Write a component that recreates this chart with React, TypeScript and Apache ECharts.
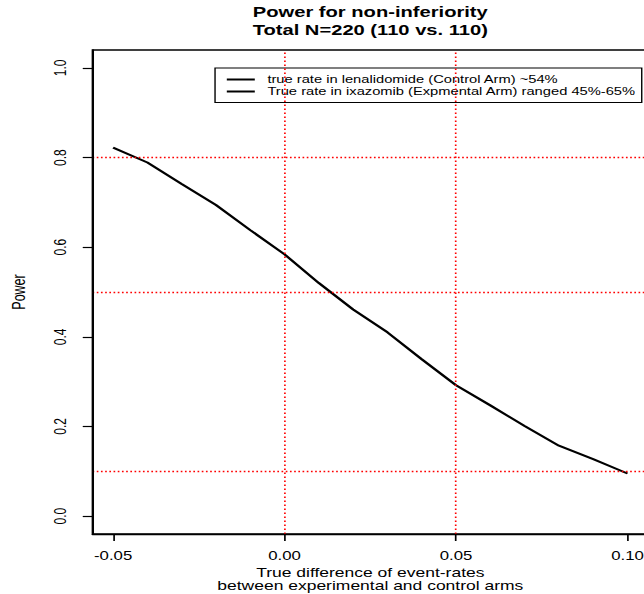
import React, { useEffect, useRef } from "react";
import * as echarts from "echarts";

const titleLines = ["Power for non-inferiority", "Total N=220 (110 vs. 110)"];
const xAxisTitle = ["True difference of event-rates", "between experimental and control arms"];
const yAxisTitle = "Power";
const legendNames = [
  "true rate in lenalidomide (Control Arm) ~54%",
  "True rate in ixazomib (Expmental Arm) ranged 45%-65%",
];
const rateDifference = [-0.05, -0.04, -0.03, -0.02, -0.01, 0.0, 0.01, 0.02, 0.03, 0.04, 0.05, 0.06, 0.07, 0.08, 0.09, 0.1];
const powerValues = [0.822, 0.789, 0.741, 0.694, 0.638, 0.584, 0.52, 0.461, 0.41, 0.35, 0.292, 0.247, 0.201, 0.157, 0.127, 0.095];
const xTicks = [-0.05, 0, 0.05, 0.1];
const yTicks = [0, 0.2, 0.4, 0.6, 0.8, 1.0];
const refX = [0, 0.05];
const refY = [0.1, 0.5, 0.8];

const FONT = "'Liberation Sans', Arial, Helvetica, sans-serif";
const STRETCH = 1.4;
const RED_V = { color: "#ff0000", type: [1.5, 2.5], width: 1.2, opacity: 1 };
const RED_H = { color: "#ff0000", type: [1.2, 1.8], width: 1.3, opacity: 1 };

export default function App() {
  const ref = useRef<HTMLDivElement>(null);
  useEffect(() => {
    if (!ref.current) return;
    const chart = echarts.init(ref.current, undefined, { renderer: "svg" });
    chart.setOption({
      animation: false,
      backgroundColor: "#fff",
      textStyle: { fontFamily: FONT },
      title: {
        text: titleLines.join("\n"),
        left: "center",
        top: 3.5,
        padding: 0,
        textStyle: { fontFamily: FONT, fontSize: 14.4, fontWeight: "bold", color: "#000", lineHeight: 17.5 },
      },
      legend: {
        orient: "vertical",
        left: 153.6,
        top: 68,
        padding: [5.5, 4, 5, 8.4],
        itemGap: 0,
        itemWidth: 20,
        itemHeight: 2,
        icon: "rect",
        borderColor: "#000",
        borderWidth: 1,
        data: legendNames,
        textStyle: { fontFamily: FONT, fontSize: 10.5, color: "#000", lineHeight: 12, padding: [0, 0, 0, 4] },
      },
      grid: {
        left: 66.1,
        right: 66.1,
        top: 50,
        bottom: 60,
        outerBoundsMode: "none",
        containLabel: false,
        show: true,
        borderColor: "#000",
        borderWidth: 1.3,
        backgroundColor: "transparent",
      },
      xAxis: {
        type: "value",
        position: "bottom",
        min: -0.056,
        max: 0.106,
        name: xAxisTitle.join("\n"),
        nameLocation: "middle",
        nameGap: 30.75,
        nameTextStyle: { fontFamily: FONT, fontSize: 12.5, color: "#000", lineHeight: 12.5 },
        axisLine: { show: true, onZero: false, lineStyle: { color: "#000", width: 1.3 } },
        splitLine: { show: false },
        axisTick: { show: true, customValues: xTicks, length: 7, inside: false, lineStyle: { color: "#000", width: 1.2 } },
        axisLabel: {
          show: true,
          customValues: xTicks,
          margin: 15.5,
          fontFamily: FONT,
          fontSize: 12,
          color: "#000",
          formatter: (v: number) => v.toFixed(2),
        },
        z: 10,
      },
      yAxis: {
        type: "value",
        position: "left",
        min: -0.04,
        max: 1.04,
        name: yAxisTitle,
        nameLocation: "middle",
        nameRotate: 90,
        nameGap: 46.5,
        nameTextStyle: { fontFamily: FONT, fontSize: 12.5, color: "#000" },
        axisLine: { show: true, onZero: false, lineStyle: { color: "#000", width: 1.3 } },
        splitLine: { show: false },
        axisTick: { show: true, customValues: yTicks, length: 7, inside: false, lineStyle: { color: "#000", width: 1.2 } },
        axisLabel: {
          show: true,
          customValues: yTicks,
          rotate: 90,
          margin: 17,
          fontFamily: FONT,
          fontSize: 12,
          color: "#000",
          formatter: (v: number) => v.toFixed(1),
        },
        z: 10,
      },
      series: [
        {
          name: legendNames[0],
          type: "line",
          data: rateDifference.map((x, i) => [x, powerValues[i]]),
          symbol: "none",
          color: "#000",
          lineStyle: { color: "#000", width: 2 },
          z: 3,
          markLine: {
            silent: true,
            symbol: ["none", "none"],
            label: { show: false },
            lineStyle: RED_V,
            emphasis: { disabled: true },
            data: [
              ...refX.map((v) => ({ xAxis: v, lineStyle: RED_V })),
              ...refY.map((v) => ({ yAxis: v, lineStyle: RED_H })),
            ],
          },
        },
        {
          name: legendNames[1],
          type: "line",
          data: [],
          symbol: "none",
          color: "#000",
          lineStyle: { color: "#000", width: 2 },
        },
      ],
    });
    return () => chart.dispose();
  }, []);
  return (
    <div style={{ position: "fixed", left: 0, top: 0, width: 644, height: 594, overflow: "hidden", background: "#fff" }}>
      <div
        ref={ref}
        style={{ width: 529, height: 594, transform: `scaleX(${STRETCH})`, transformOrigin: "0 0" }}
      />
    </div>
  );
}
